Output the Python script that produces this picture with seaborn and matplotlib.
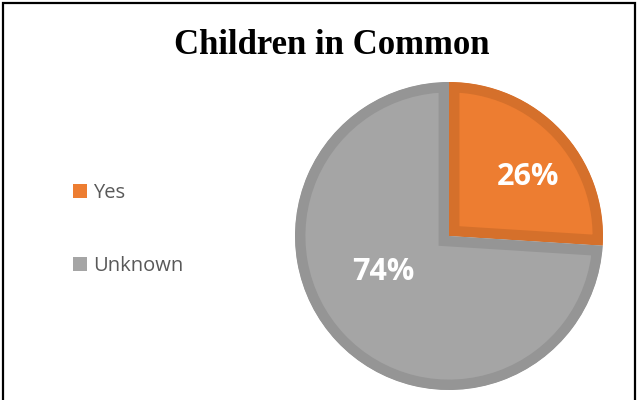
import matplotlib
matplotlib.use("Agg")
import matplotlib.pyplot as plt
import seaborn as sns
from matplotlib.patches import Patch, Rectangle

sns.set_theme(style="white")
plt.rcParams['font.family'] = ['Open Sans', 'DejaVu Sans']

# Data
categories = ["Yes", "Unknown"]
values = [26, 74]
title = "Children in Common"

fill_colors = ["#ED7D31", "#A5A5A5"]
edge_colors = ["#D5702B", "#959595"]

W, H = 639, 400
DPI = 100
fig = plt.figure(figsize=(W / DPI, H / DPI), dpi=DPI)
fig.patch.set_facecolor("white")

# pie axes (center ~ (449,236) px, radius 154 px)
cx, cy, R = 449, 236, 154
ax = fig.add_axes([(cx - R) / W, (H - cy - R) / H, 2 * R / W, 2 * R / H])
wedges, texts, autotexts = ax.pie(
    values, colors=fill_colors, startangle=90, counterclock=False,
    autopct='%1.0f%%', pctdistance=0.6,
    textprops=dict(color="white", fontsize=22, fontweight="bold"),
    wedgeprops=dict(linewidth=15.0),
)
for w, ec in zip(wedges, edge_colors):
    w.set_edgecolor(ec)
    w.set_clip_path(w)
    w.set_clip_on(True)
ax.set_xlim(-1, 1)
ax.set_ylim(-1, 1)
ax.set_aspect("equal")
ax.axis("off")

label_pos = [(0.513, 0.383), (-0.429, -0.234)]
for t, p in zip(autotexts, label_pos):
    t.set_position(p)
    t.set_ha("center")
    t.set_va("center")

# legend
handles = [Patch(facecolor=c, edgecolor="none") for c in fill_colors]
fig.legend(handles, categories, loc="center left",
           bbox_to_anchor=(73 / W, 1 - 229.5 / H), frameon=False,
           fontsize=14.5, labelcolor="#595959", handlelength=0.7,
           handleheight=0.7, handletextpad=0.3, labelspacing=2.63,
           borderpad=0, borderaxespad=0)

# title
fig.text(332 / W, 1 - 45 / H, title, ha="center", va="center",
         fontsize=25, fontweight="bold", family="Liberation Serif",
         color="black")

# chart frame
fig.patches.append(Rectangle((3 / W, -0.1), (635 - 3) / W, 1.1 - 3 / H,
                             transform=fig.transFigure, fill=False,
                             edgecolor="black", linewidth=1.6))

fig.savefig("out.png", dpi=DPI)
